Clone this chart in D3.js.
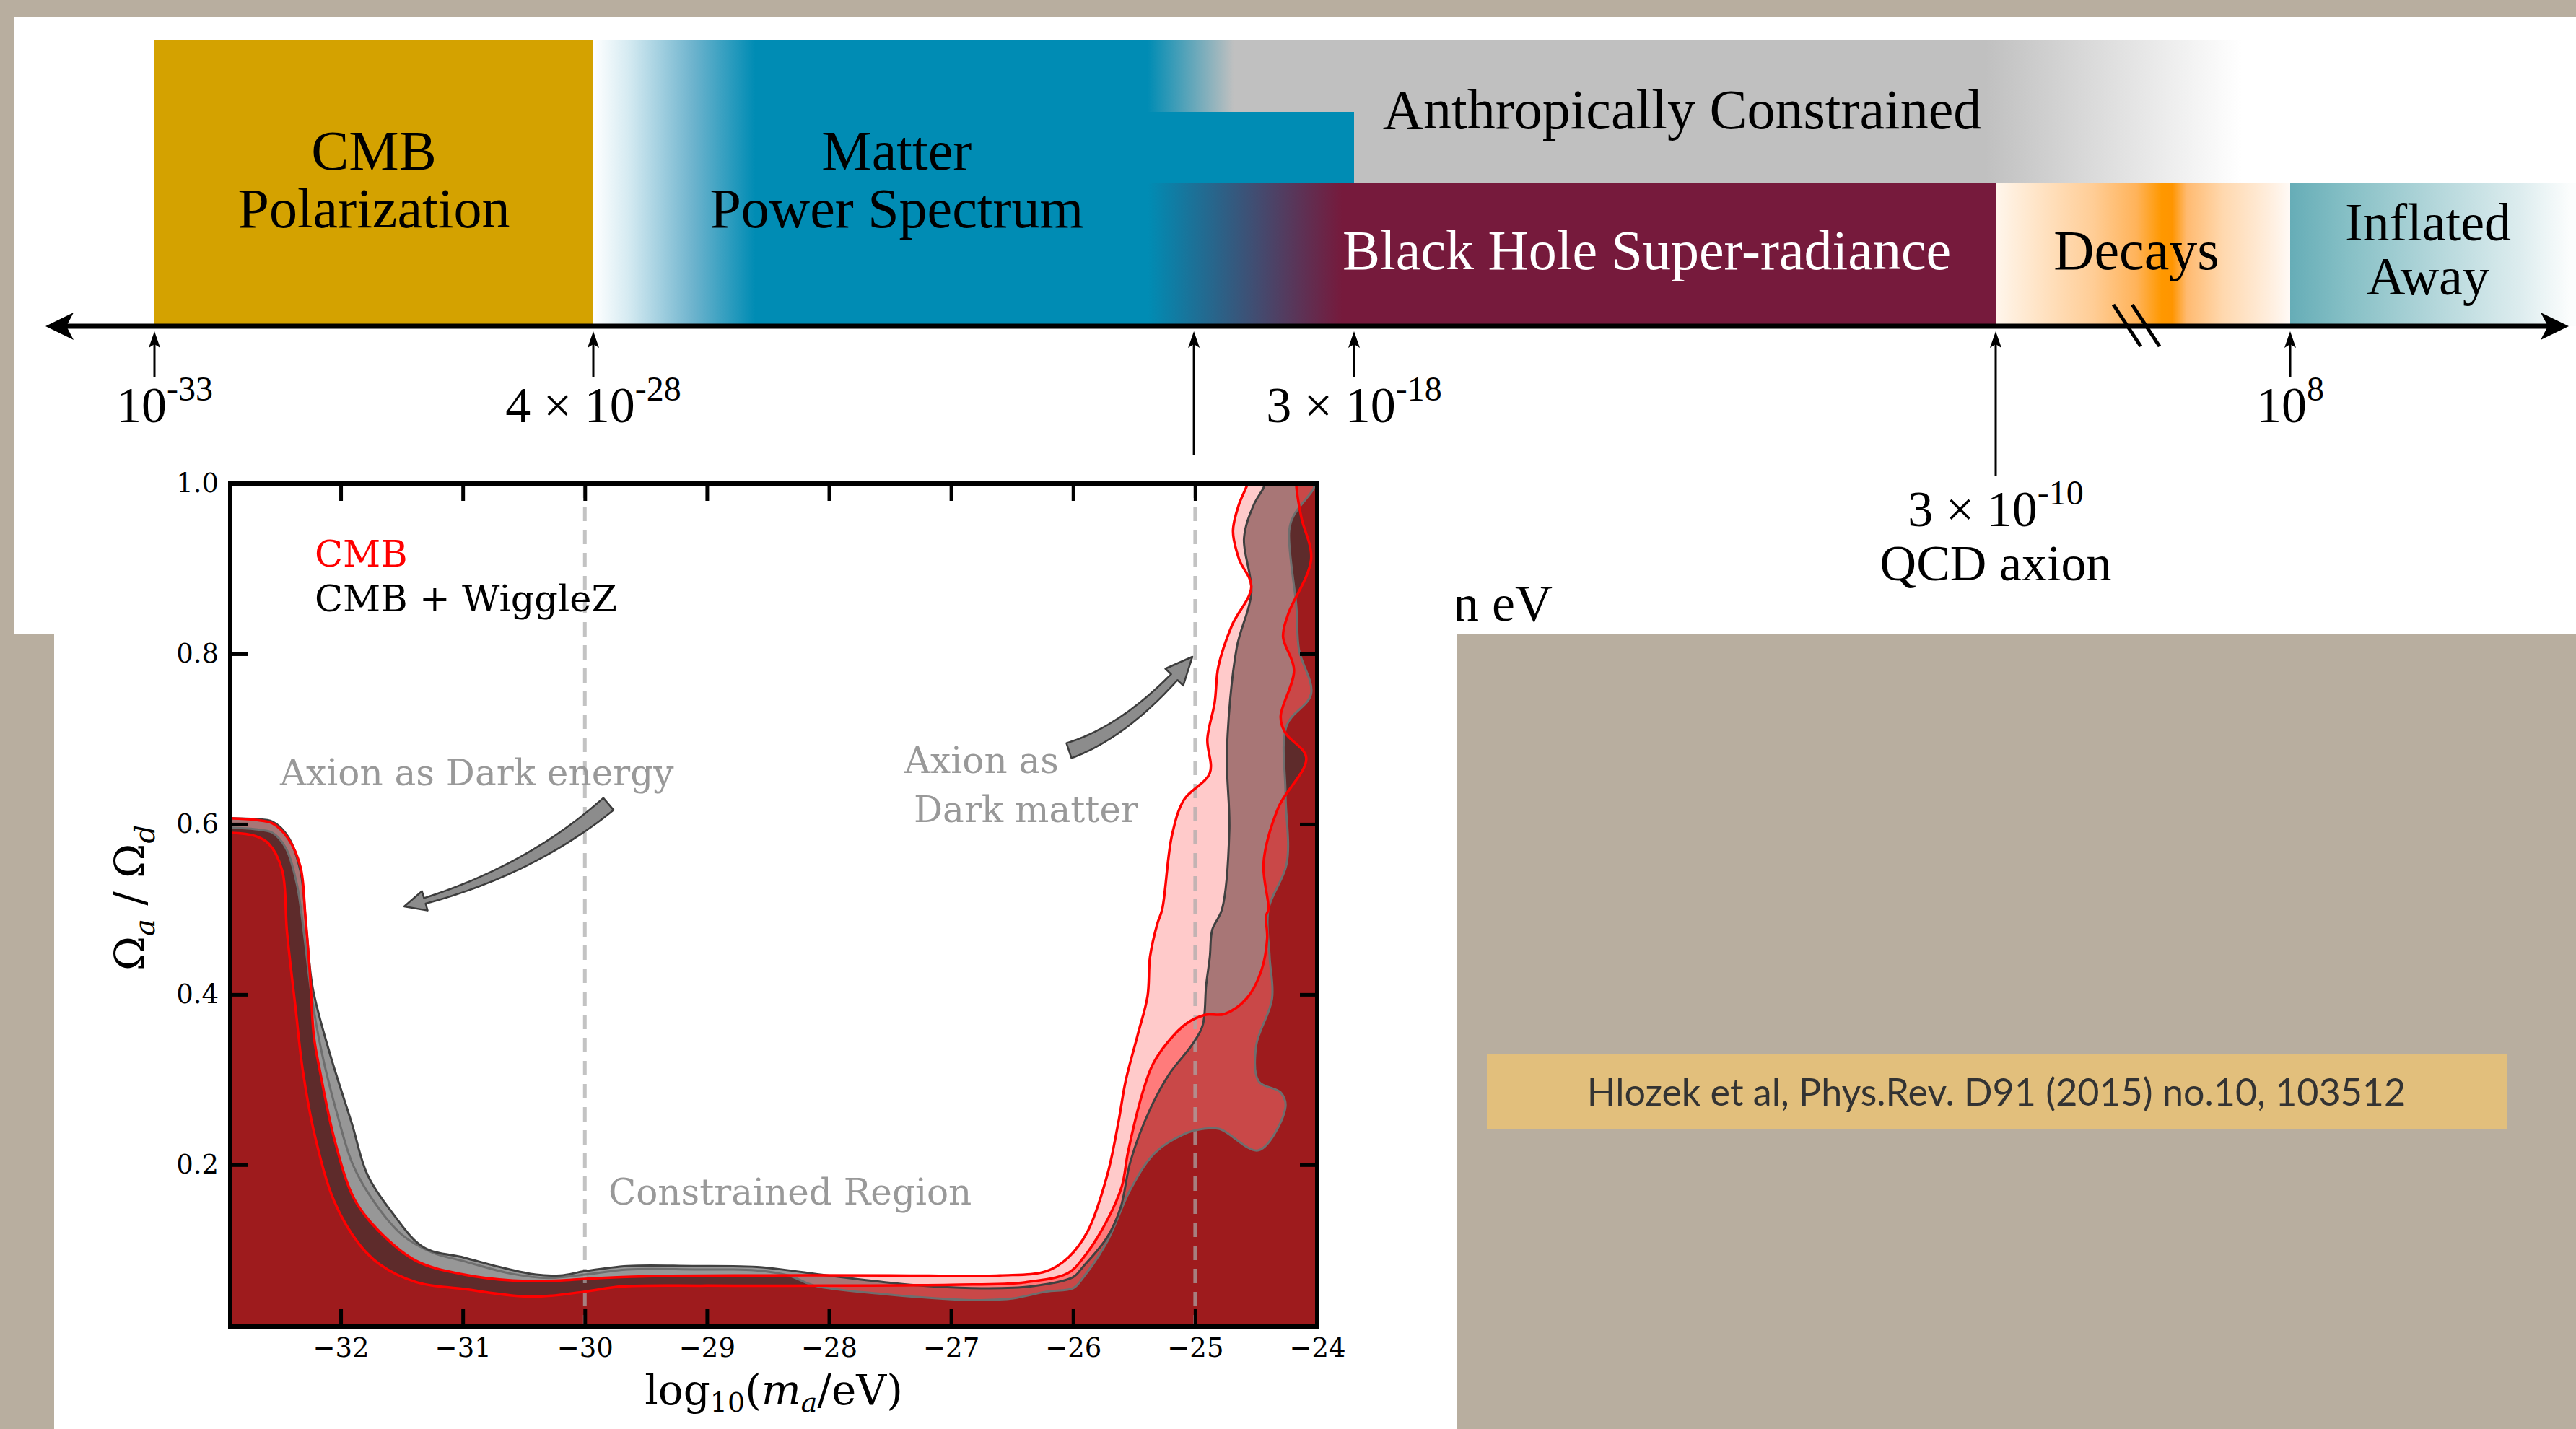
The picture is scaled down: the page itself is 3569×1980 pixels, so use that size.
<!DOCTYPE html>
<html>
<head>
<meta charset="utf-8">
<title>Axion mass ranges</title>
<script src="https://cdn.jsdelivr.net/npm/d3@7"></script>
<style>
  body { margin: 0; background: #b8ae9f; }
  svg { display: block; }
</style>
</head>
<body>
<div id="chart"></div>
<script>

// ---- timeline data (log10 of the mass in eV) ----
var markerVals = [-33, -27.4, -19.6, -17.52, -9.52, 8];
var markerBase = ["10", "4 × 10", "", "3 × 10", "3 × 10", "10"];
var markerExp  = ["-33", "-28", "", "-18", "-10", "8"];
var markerNote = ["", "", "", "", "QCD axion", ""];

var bandNames = [["CMB", "Polarization"], ["Matter", "Power Spectrum"], ["Anthropically Constrained"],
                 ["Black Hole Super-radiance"], ["Decays"], ["Inflated", "Away"]];
var bandCentres = [-30.2, -23.46, -13.43, -13.87, -1.15, 16.2];

// ---- inset data (Hlozek et al) ----
var xTicks = [-32, -31, -30, -29, -28, -27, -26, -25, -24];
var yTicks = [0.2, 0.4, 0.6, 0.8, 1.0];
var dashedAt = [-30, -25];
var legendNames = ["CMB", "CMB + WiggleZ"];

// CMB outer contour
var cmbOuter = [[-32.92,0.607],[-32.70,0.605],[-32.56,0.601],[-32.43,0.583],[-32.33,0.550],[-32.29,0.493],
  [-32.25,0.420],[-32.22,0.351],[-32.17,0.310],[-32.05,0.229],[-31.89,0.160],[-31.70,0.124],[-31.38,0.087],
  [-30.99,0.071],[-30.59,0.064],[-30.20,0.064],[-30.0,0.066],[-29.5,0.069],[-28.5,0.070],[-27.5,0.070],
  [-26.6,0.070],[-26.22,0.075],[-26.04,0.091],[-25.88,0.122],[-25.72,0.188],[-25.63,0.249],[-25.57,0.298],
  [-25.47,0.353],[-25.39,0.398],[-25.37,0.444],[-25.31,0.483],[-25.27,0.500],[-25.19,0.587],[-25.09,0.629],
  [-24.88,0.660],[-24.90,0.700],[-24.84,0.743],[-24.81,0.785],[-24.70,0.833],[-24.54,0.879],[-24.64,0.911],
  [-24.69,0.944],[-24.64,0.976],[-24.58,0.996],[-24.57,1.0]];

// CMB inner contour
var cmbInner = [[-32.92,0.590],[-32.70,0.586],[-32.59,0.577],[-32.48,0.546],[-32.44,0.473],[-32.37,0.384],
  [-32.31,0.310],[-32.21,0.233],[-32.05,0.156],[-31.85,0.107],[-31.68,0.083],[-31.38,0.062],[-30.99,0.054],
  [-30.43,0.045],[-30.0,0.051],[-29.7,0.057],[-29.0,0.058],[-28.0,0.058],[-27.0,0.059],[-26.39,0.062],
  [-26.04,0.073],[-25.92,0.090],[-25.72,0.135],[-25.60,0.175],[-25.55,0.215],[-25.43,0.285],[-25.35,0.317],
  [-25.23,0.343],[-25.07,0.366],[-24.92,0.376],[-24.76,0.377],[-24.58,0.395],[-24.46,0.427],[-24.41,0.466],
  [-24.42,0.492],[-24.40,0.500],[-24.44,0.554],[-24.32,0.619],[-24.09,0.678],[-24.26,0.707],[-24.30,0.726],
  [-24.19,0.781],[-24.28,0.820],[-24.24,0.846],[-24.05,0.911],[-24.13,0.960],[-24.17,0.995],[-24.17,1.0]];

// CMB + WiggleZ outer contour
var wigOuter = [[-32.92,0.607],[-32.70,0.606],[-32.56,0.603],[-32.43,0.585],[-32.33,0.545],[-32.28,0.475],
  [-32.23,0.408],[-32.09,0.331],[-31.91,0.249],[-31.78,0.188],[-31.58,0.144],[-31.32,0.103],[-30.99,0.091],
  [-30.70,0.080],[-30.40,0.071],[-30.20,0.070],[-30.0,0.075],[-29.65,0.081],[-29.12,0.081],[-28.59,0.080],
  [-28.33,0.076],[-28.07,0.071],[-27.54,0.062],[-27.14,0.057],[-26.75,0.055],[-26.35,0.057],[-26.0,0.068],
  [-25.92,0.080],[-25.72,0.115],[-25.61,0.150],[-25.53,0.204],[-25.37,0.265],[-25.21,0.307],[-25.03,0.340],
  [-24.94,0.363],[-24.91,0.411],[-24.88,0.444],[-24.86,0.476],[-24.78,0.500],[-24.72,0.593],[-24.74,0.685],
  [-24.66,0.807],[-24.54,0.872],[-24.60,0.936],[-24.52,0.975],[-24.44,0.995],[-24.43,1.0]];

// CMB + WiggleZ inner contour
var wigInner = [[-32.92,0.596],[-32.70,0.594],[-32.56,0.590],[-32.45,0.572],[-32.36,0.530],[-32.30,0.470],
  [-32.24,0.400],[-32.16,0.335],[-32.03,0.260],[-31.90,0.200],[-31.72,0.155],[-31.50,0.118],[-31.25,0.097],
  [-31.0,0.087],[-30.6,0.072],[-30.3,0.067],[-30.0,0.071],[-29.65,0.077],[-29.1,0.077],[-28.6,0.076],
  [-28.33,0.070],[-28.12,0.058],[-27.54,0.048],[-27.0,0.042],[-26.75,0.041],[-26.49,0.043],[-26.22,0.051],
  [-26.0,0.055],[-25.92,0.067],[-25.72,0.110],[-25.53,0.171],[-25.33,0.214],[-25.09,0.236],[-24.94,0.242],
  [-24.80,0.242],[-24.48,0.217],[-24.26,0.268],[-24.30,0.285],[-24.48,0.298],[-24.50,0.340],[-24.37,0.395],
  [-24.39,0.444],[-24.40,0.500],[-24.25,0.554],[-24.26,0.636],[-24.25,0.716],[-24.05,0.753],[-24.15,0.805],
  [-24.17,0.854],[-24.23,0.944],[-24.19,0.963],[-24.03,0.994],[-24.02,1.0]];

var citation = "Hlozek et al, Phys.Rev. D91 (2015) no.10, 103512";

// ---------------------------------------------------------------
var W = 3569, H = 1980;
var serif = "Liberation Serif, Times New Roman, serif";
var mpl = "DejaVu Serif, serif";

var svg = d3.select("#chart").append("svg")
  .attr("width", W)
  .attr("height", H);
var defs = svg.append("defs");

// slide background + white panel
svg.append("rect").attr("width", W).attr("height", H).attr("fill", "#b8ae9f");
svg.append("rect")
  .attr("x", 20).attr("y", 23)
  .attr("width", W - 20).attr("height", 855)
  .attr("fill", "#ffffff");

// timeline scale: hand drawn axis, linear between the labelled points, with a break
var tl = d3.scaleLinear()
  .domain([-33, -27.4, -17.52, -9.52, 8])
  .range([214, 822, 1876, 2765, 3173]);

var rowTop = 55, rowA = 155, rowB = 253, axisY = 452;

function hGrad(id, stops) {
  var x0 = tl(stops[0][0]), x1 = tl(stops[stops.length - 1][0]);
  var g = defs.append("linearGradient")
    .attr("id", id)
    .attr("gradientUnits", "userSpaceOnUse")
    .attr("x1", x0).attr("x2", x1).attr("y1", 0).attr("y2", 0);
  stops.forEach(function(s) {
    g.append("stop")
      .attr("offset", (tl(s[0]) - x0) / (x1 - x0))
      .attr("stop-color", s[1])
      .attr("stop-opacity", s[2] == null ? 1 : s[2]);
  });
}

hGrad("gMatter", [[-27.4, "#ffffff"], [-26.95, "#d6ebf2"], [-26.1, "#6db3cd"], [-25.3, "#008cb4"], [-17.52, "#008cb4"]]);
hGrad("gAnthro", [[-20.2, "#c0c0c0", 0], [-19.08, "#c0c0c0"], [-9.65, "#c0c0c0"], [5.1, "#ffffff"]]);
hGrad("gHole", [[-20.2, "#761a3c", 0], [-17.67, "#761a3c"], [-9.52, "#761a3c"]]);
hGrad("gDecay", [[-9.52, "#fff6ec"], [-6.73, "#ffe2c2"], [-3.73, "#ffcd96"], [-1.15, "#ffb35a"],
                 [0.35, "#ff9800"], [0.99, "#ff9500"], [1.85, "#ffba70"], [4.0, "#ffd8ae"], [7.0, "#fff0e2"], [8, "#fffaf6"]]);
hGrad("gInfl", [[8, "#66adb7"], [11.3, "#85bfc5"], [16.45, "#b2d6da"], [21.6, "#dcecee"], [24.6, "#fbfdfd"]]);

function band(x0, x1, y0, y1, fill) {
  svg.append("rect")
    .attr("x", tl(x0)).attr("y", y0)
    .attr("width", tl(x1) - tl(x0)).attr("height", y1 - y0)
    .attr("fill", fill);
}
band(-33, -27.4, rowTop, axisY, "#d4a200");
band(-27.4, -17.52, rowTop, axisY, "url(#gMatter)");
band(-20.2, 5.1, rowTop, rowA, "url(#gAnthro)");
band(-17.52, 5.1, rowA, rowB, "url(#gAnthro)");
band(-20.2, -9.52, rowB, axisY, "url(#gHole)");
band(-9.52, 8, rowB, axisY, "url(#gDecay)");
band(8, 25, rowB, axisY, "url(#gInfl)");

// band labels
var bandLabelY = [[235, 315], [235, 315], [178], [373], [373], [333, 408]];
var bandFill = ["#000", "#000", "#000", "#fff", "#000", "#000"];
bandNames.forEach(function(lines, i) {
  var t = svg.append("text")
    .attr("text-anchor", "middle")
    .attr("font-family", serif)
    .attr("font-size", i == 5 ? 74 : 78)
    .attr("fill", bandFill[i]);
  lines.forEach(function(s, j) {
    t.append("tspan").attr("x", tl(bandCentres[i])).attr("y", bandLabelY[i][j]).text(s);
  });
});

// main axis with arrow heads
svg.append("line")
  .attr("x1", 80).attr("x2", 3540)
  .attr("y1", axisY).attr("y2", axisY)
  .attr("stroke", "#000").attr("stroke-width", 7);
svg.append("path")
  .attr("d", "M63," + axisY + "L102," + (axisY - 19) + "L92," + axisY + "L102," + (axisY + 19) + "Z")
  .attr("fill", "#000");
svg.append("path")
  .attr("d", "M3559," + axisY + "L3520," + (axisY - 19) + "L3530," + axisY + "L3520," + (axisY + 19) + "Z")
  .attr("fill", "#000");

// break marks
[0, 26].forEach(function(dx) {
  svg.append("line")
    .attr("x1", 2928 + dx).attr("y1", 422)
    .attr("x2", 2966 + dx).attr("y2", 480)
    .attr("stroke", "#000").attr("stroke-width", 5);
});

// "Mass in eV" (mostly hidden behind the inset)
svg.append("text")
  .attr("x", 2151).attr("y", 860)
  .attr("text-anchor", "end")
  .attr("font-family", serif)
  .attr("font-size", 72)
  .text("Mass in eV");

// marker arrows + labels
var markers = svg.selectAll(".marker")
  .data(markerVals)
  .enter()
  .append("g")
  .attr("class", "marker")
  .attr("transform", function(d) { return "translate(" + tl(d) + ",0)"; });

markers.append("line")
  .attr("x1", 0).attr("x2", 0)
  .attr("y1", 470)
  .attr("y2", function(d, i) { return markerBase[i] == "" ? 630 : (markerNote[i] ? 660 : 523); })
  .attr("stroke", "#000").attr("stroke-width", 3);
markers.append("path")
  .attr("d", "M0,459L-8,482L0,477L8,482Z")
  .attr("fill", "#000");

var mlab = markers.append("text")
  .attr("text-anchor", "middle")
  .attr("font-family", serif)
  .attr("font-size", 70)
  .attr("x", function(d, i) { return i == 0 ? 14 : 0; })
  .attr("y", function(d, i) { return markerNote[i] ? 729 : 585; });
mlab.append("tspan").text(function(d, i) { return markerBase[i]; });
mlab.append("tspan")
  .attr("font-size", 48)
  .attr("dy", -30)
  .text(function(d, i) { return markerExp[i]; });
markers.append("text")
  .attr("text-anchor", "middle")
  .attr("font-family", serif)
  .attr("font-size", 70)
  .attr("y", 804)
  .text(function(d, i) { return markerNote[i]; });

// ---------------------------------------------------------------
// inset figure
svg.append("rect")
  .attr("x", 75).attr("y", 640)
  .attr("width", 2019 - 75).attr("height", H - 640)
  .attr("fill", "#ffffff");

var x = d3.scaleLinear().domain([-32.905, -24]).range([319, 1825]);
var y = d3.scaleLinear().domain([0.01, 1.0]).range([1838, 670]);

defs.append("clipPath").attr("id", "plotClip")
  .append("rect")
  .attr("x", x(-32.905)).attr("y", y(1.0))
  .attr("width", x(-24) - x(-32.905)).attr("height", y(0.01) - y(1.0));

var curveGen = d3.line()
  .x(function(d) { return x(d[0]); })
  .y(function(d) { return y(d[1]); })
  .curve(d3.curveCatmullRom.alpha(0.5));

function areaPath(pts) {
  return curveGen(pts) +
    "L" + x(-23.8) + "," + y(1.05) +
    "L" + x(-23.8) + "," + y(-0.05) +
    "L" + x(-33.1) + "," + y(-0.05) +
    "L" + x(-33.1) + "," + y(pts[0][1]) + "Z";
}

[["cC1", cmbOuter], ["cW1", wigOuter], ["cW2", wigInner]].forEach(function(c) {
  defs.append("clipPath").attr("id", c[0]).append("path").attr("d", areaPath(c[1]));
});

var fills = svg.append("g").attr("clip-path", "url(#plotClip)");

function fillArea(pts, color, clip) {
  var p = fills.append("path").attr("d", areaPath(pts)).attr("fill", color);
  if (clip) p.attr("clip-path", "url(#" + clip + ")");
}
fillArea(cmbOuter, "#ffcaca");
fillArea(wigOuter, "#979797");
fillArea(wigOuter, "#a87676", "cC1");
fillArea(wigInner, "#5e2b2b", "cC1");
fillArea(cmbInner, "#ff7b7b");
fillArea(cmbInner, "#c94848", "cW1");
fillArea(cmbInner, "#9e1b1d", "cW2");

// dashed guide lines
fills.selectAll(".guide")
  .data(dashedAt)
  .enter()
  .append("line")
  .attr("x1", function(d) { return x(d); })
  .attr("x2", function(d) { return x(d); })
  .attr("y1", y(1.0)).attr("y2", y(0.01))
  .attr("stroke", "#aaaaaa")
  .attr("stroke-opacity", 0.7)
  .attr("stroke-width", 5)
  .attr("stroke-dasharray", "20,12");

// contour edges
fills.append("path").attr("d", curveGen(wigInner)).attr("fill", "none").attr("stroke", "#6e6e6e").attr("stroke-width", 3);
fills.append("path").attr("d", curveGen(wigOuter)).attr("fill", "none").attr("stroke", "#404040").attr("stroke-width", 3);
fills.append("path").attr("d", curveGen(cmbInner)).attr("fill", "none").attr("stroke", "#ff0000").attr("stroke-width", 3.5);
fills.append("path").attr("d", curveGen(cmbOuter)).attr("fill", "none").attr("stroke", "#ff0000").attr("stroke-width", 3.5);

// axes
function styleAxis(g) {
  g.select(".domain").remove();
  g.selectAll(".tick line").attr("stroke", "#000").attr("stroke-width", 5);
  g.selectAll(".tick text").attr("fill", "#000");
  g.attr("font-family", mpl).attr("font-size", 37);
}
svg.append("g")
  .attr("transform", "translate(0," + y(0.01) + ")")
  .call(d3.axisBottom(x).tickValues(xTicks).tickSize(-24).tickPadding(16).tickFormat(d3.format("d")))
  .call(styleAxis);
svg.append("g")
  .attr("transform", "translate(0," + y(1.0) + ")")
  .call(d3.axisTop(x).tickValues(xTicks.slice(0, -1)).tickSize(-24).tickFormat(""))
  .call(styleAxis);
svg.append("g")
  .attr("transform", "translate(" + x(-32.905) + ",0)")
  .call(d3.axisLeft(y).tickValues(yTicks).tickSize(-24).tickPadding(16).tickFormat(d3.format(".1f")))
  .call(styleAxis);
svg.append("g")
  .attr("transform", "translate(" + x(-24) + ",0)")
  .call(d3.axisRight(y).tickValues(yTicks.slice(0, -1)).tickSize(-24).tickFormat(""))
  .call(styleAxis);

svg.append("rect")
  .attr("x", x(-32.905)).attr("y", y(1.0))
  .attr("width", x(-24) - x(-32.905)).attr("height", y(0.01) - y(1.0))
  .attr("fill", "none").attr("stroke", "#000").attr("stroke-width", 6);

// legend
svg.selectAll(".legend")
  .data(legendNames)
  .enter()
  .append("text")
  .attr("x", 436)
  .attr("y", function(d, i) { return 785 + i * 62; })
  .attr("font-family", mpl)
  .attr("font-size", 51)
  .attr("fill", function(d, i) { return i == 0 ? "#ff0000" : "#000"; })
  .text(function(d) { return d; });

// annotations
var notes = [["Axion as Dark energy", 388, 1088], ["Axion as", 1253, 1071], ["Dark matter", 1266, 1139],
             ["Constrained Region", 843, 1669]];
notes.forEach(function(n) {
  svg.append("text")
    .attr("x", n[1]).attr("y", n[2])
    .attr("font-family", mpl)
    .attr("font-size", 50)
    .attr("fill", "#999999")
    .text(n[0]);
});

// curved pointer arrows
function fancyArrow(p0, c, p2, w0, w1, headW, headL) {
  function pt(t) {
    return [(1 - t) * (1 - t) * p0[0] + 2 * (1 - t) * t * c[0] + t * t * p2[0],
            (1 - t) * (1 - t) * p0[1] + 2 * (1 - t) * t * c[1] + t * t * p2[1]];
  }
  function dir(t) {
    var dx = 2 * (1 - t) * (c[0] - p0[0]) + 2 * t * (p2[0] - c[0]);
    var dy = 2 * (1 - t) * (c[1] - p0[1]) + 2 * t * (p2[1] - c[1]);
    var l = Math.sqrt(dx * dx + dy * dy);
    return [dx / l, dy / l];
  }
  var len = 0, prev = pt(0);
  for (var k = 1; k <= 50; k++) {
    var q = pt(k / 50);
    len += Math.hypot(q[0] - prev[0], q[1] - prev[1]);
    prev = q;
  }
  var tEnd = 1 - headL / len;
  var n = 30, left = [], right = [];
  for (var i = 0; i <= n; i++) {
    var t = tEnd * i / n, p = pt(t), d = dir(t);
    var w = (w0 + (w1 - w0) * i / n) / 2;
    left.push([p[0] - d[1] * w, p[1] + d[0] * w]);
    right.push([p[0] + d[1] * w, p[1] - d[0] * w]);
  }
  var pe = pt(tEnd), de = dir(tEnd), hw = headW / 2;
  var poly = left.concat([[pe[0] - de[1] * hw, pe[1] + de[0] * hw], p2, [pe[0] + de[1] * hw, pe[1] - de[0] * hw]])
    .concat(right.reverse());
  svg.append("path")
    .attr("d", d3.line()(poly) + "Z")
    .attr("fill", "#8c8c8c")
    .attr("stroke", "#3c3c3c")
    .attr("stroke-width", 2.5)
    .attr("stroke-linejoin", "round");
}
fancyArrow([843, 1114], [725, 1214], [560, 1256], 22, 8, 28, 28);
fancyArrow([1481, 1040], [1567, 1011], [1652, 910], 22, 12, 34, 32);

// axis titles
var xl = svg.append("text")
  .attr("x", 1072).attr("y", 1946)
  .attr("text-anchor", "middle")
  .attr("font-family", mpl)
  .attr("font-size", 58);
xl.append("tspan").text("log");
xl.append("tspan").attr("font-size", 38).attr("dy", 10).text("10");
xl.append("tspan").attr("dy", -10).text("(");
xl.append("tspan").attr("font-style", "italic").text("m");
xl.append("tspan").attr("font-style", "italic").attr("font-size", 38).attr("dy", 10).text("a");
xl.append("tspan").attr("dy", -10).text("/eV)");

var yl = svg.append("text")
  .attr("transform", "translate(200,1244)rotate(-90)")
  .attr("text-anchor", "middle")
  .attr("font-family", mpl)
  .attr("font-size", 58);
yl.append("tspan").text("Ω");
yl.append("tspan").attr("font-style", "italic").attr("font-size", 40).attr("dy", 14).text("a");
yl.append("tspan").attr("dy", -14).text(" / Ω");
yl.append("tspan").attr("font-style", "italic").attr("font-size", 40).attr("dy", 14).text("d");

// citation box
svg.append("rect")
  .attr("x", 2060).attr("y", 1461)
  .attr("width", 3473 - 2060).attr("height", 1564 - 1461)
  .attr("fill", "#e2bf7c");
svg.append("text")
  .attr("x", 2766).attr("y", 1532)
  .attr("text-anchor", "middle")
  .attr("font-family", "Lato, Noto Sans, sans-serif")
  .attr("font-size", 52)
  .attr("fill", "#333333")
  .text(citation);

</script>
</body>
</html>
